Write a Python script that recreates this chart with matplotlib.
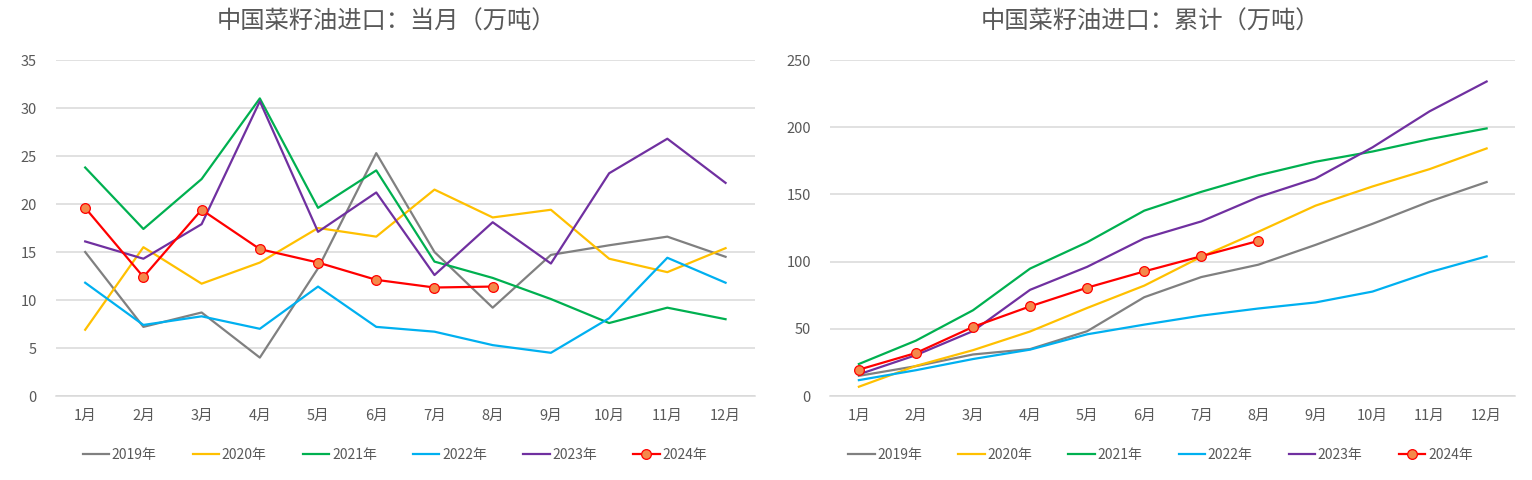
import matplotlib
matplotlib.use('Agg')
import matplotlib.pyplot as plt

plt.rcParams['font.family'] = ['Noto Sans CJK SC', 'DejaVu Sans']

months = ['1月', '2月', '3月', '4月', '5月', '6月', '7月', '8月', '9月', '10月', '11月', '12月']
years = ['2019年', '2020年', '2021年', '2022年', '2023年', '2024年']

# monthly imports (万吨)
m2019 = [15.0, 7.2, 8.7, 4.0, 13.3, 25.3, 15.0, 9.2, 14.7, 15.7, 16.6, 14.5]
m2020 = [6.9, 15.5, 11.7, 13.9, 17.5, 16.6, 21.5, 18.6, 19.4, 14.3, 12.9, 15.4]
m2021 = [23.8, 17.4, 22.6, 31.0, 19.6, 23.5, 14.0, 12.3, 10.1, 7.6, 9.2, 8.0]
m2022 = [11.8, 7.4, 8.3, 7.0, 11.4, 7.2, 6.7, 5.3, 4.5, 8.1, 14.4, 11.8]
m2023 = [16.1, 14.3, 17.9, 30.7, 17.1, 21.2, 12.6, 18.1, 13.8, 23.2, 26.8, 22.2]
m2024 = [19.6, 12.4, 19.4, 15.3, 13.9, 12.1, 11.3, 11.4]

# cumulative imports (万吨)
c2019 = [15.0, 22.2, 30.9, 34.9, 48.2, 73.5, 88.5, 97.7, 112.4, 128.1, 144.7, 159.2]
c2020 = [6.9, 22.4, 34.1, 48.0, 65.5, 82.1, 103.6, 122.2, 141.6, 155.9, 168.8, 184.2]
c2021 = [23.8, 41.2, 63.8, 94.8, 114.4, 137.9, 151.9, 164.2, 174.3, 181.9, 191.1, 199.1]
c2022 = [11.8, 19.2, 27.5, 34.5, 45.9, 53.1, 59.8, 65.1, 69.6, 77.7, 92.1, 103.9]
c2023 = [16.1, 30.4, 48.3, 79.0, 96.1, 117.3, 129.9, 148.0, 161.8, 185.0, 211.8, 234.0]
c2024 = [19.6, 32.0, 51.4, 66.7, 80.6, 92.7, 104.0, 115.4]

colors = ['#808080', '#FFC000', '#00B050', '#00B0F0', '#7030A0', '#FF0000']
text_color = '#595959'
grid_color = '#D9D9D9'


def draw_panel(ax, series, ymax, ystep, legend_x):
    x = list(range(1, 13))
    for name, vals, col in zip(years[:-1], series[:-1], colors[:-1]):
        ax.plot(x[:len(vals)], vals, color=col, linewidth=1.6, label=name, zorder=3)
    last = series[-1]
    ax.plot(x[:len(last)], last, color=colors[-1], linewidth=1.6, label=years[-1],
            marker='o', markersize=7, markerfacecolor='#F4894B',
            markeredgecolor='#FF0000', markeredgewidth=0.9, zorder=4)

    ax.set_xlim(0.5, 12.5)
    ax.set_ylim(0, ymax)
    ax.set_xticks(x)
    ax.set_xticklabels(months)
    ax.set_yticks(range(0, ymax + 1, ystep))
    ax.tick_params(axis='both', length=0, labelsize=10.5, colors=text_color)
    ax.tick_params(axis='x', pad=9)
    ax.tick_params(axis='y', pad=14)
    ax.grid(axis='y', color=grid_color, linewidth=1.1, zorder=0)
    for s in ['top', 'right', 'left']:
        ax.spines[s].set_visible(False)
    ax.spines['bottom'].set_color(grid_color)
    ax.spines['bottom'].set_linewidth(1.1)
    ax.legend(loc='center', bbox_to_anchor=(legend_x, -0.175), ncol=6, frameon=False,
              fontsize=10, labelcolor=text_color, handlelength=1.9,
              handletextpad=0.2, columnspacing=2.6)


fig = plt.figure(figsize=(15.32, 4.8), dpi=100)
ax1 = fig.add_axes([0.0366, 0.175, 0.456, 0.7])
ax2 = fig.add_axes([0.542, 0.175, 0.447, 0.7])

draw_panel(ax1, [m2019, m2020, m2021, m2022, m2023, m2024], 35, 5, 0.485)
draw_panel(ax2, [c2019, c2020, c2021, c2022, c2023, c2024], 250, 50, 0.482)

fig.text(386 / 1532, 1 - 22 / 480, '中国菜籽油进口：当月（万吨）',
         ha='center', va='center', fontsize=17.5, color=text_color)
fig.text(1150 / 1532, 1 - 22 / 480, '中国菜籽油进口：累计（万吨）',
         ha='center', va='center', fontsize=17.5, color=text_color)

fig.savefig('out.png', dpi=100)
